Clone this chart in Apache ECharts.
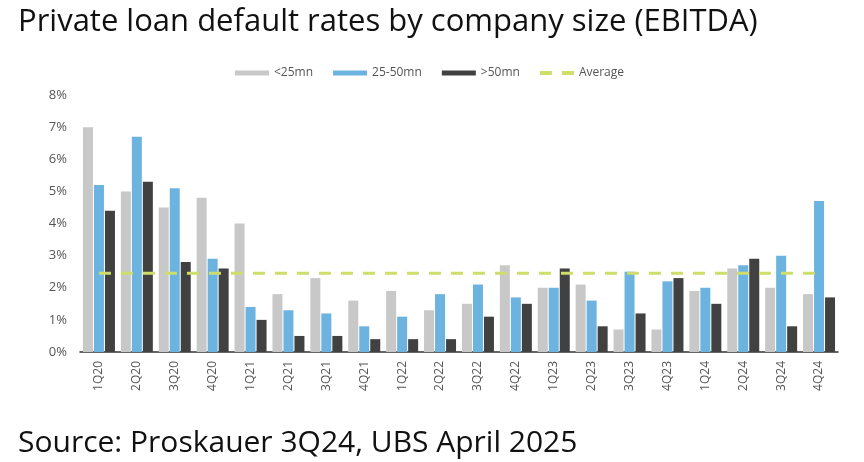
<!DOCTYPE html>
<html lang="en">
<head>
    <meta charset="UTF-8">
    <title>Private loan default rates by company size</title>
    <script src="https://cdn.jsdelivr.net/npm/echarts@6/dist/echarts.min.js"></script>
    <style>
        body { margin: 0; padding: 0; background: #fff; }
        #main { width: 864px; height: 462px; }
    </style>
</head>
<body>
    <div id="main"></div>
    <script type="text/javascript">
        // quarters on the x axis
        var quarters = ['1Q20', '2Q20', '3Q20', '4Q20', '1Q21', '2Q21', '3Q21', '4Q21', '1Q22', '2Q22',
            '3Q22', '4Q22', '1Q23', '2Q23', '3Q23', '4Q23', '1Q24', '2Q24', '3Q24', '4Q24'];

        // default rates (%)
        var small = [7.0, 5.0, 4.5, 4.8, 4.0, 1.8, 2.3, 1.6, 1.9, 1.3, 1.5, 2.7, 2.0, 2.1, 0.7, 0.7, 1.9, 2.6, 2.0, 1.8];
        var mid = [5.2, 6.7, 5.1, 2.9, 1.4, 1.3, 1.2, 0.8, 1.1, 1.8, 2.1, 1.7, 2.0, 1.6, 2.5, 2.2, 2.0, 2.7, 3.0, 4.7];
        var large = [4.4, 5.3, 2.8, 2.6, 1.0, 0.5, 0.5, 0.4, 0.4, 0.4, 1.1, 1.5, 2.6, 0.8, 1.2, 2.3, 1.5, 2.9, 0.8, 1.7];
        var averageRate = 2.45;

        var yTicks = [0, 1, 2, 3, 4, 5, 6, 7, 8];

        var fontFamily = '"Open Sans", "Noto Sans", sans-serif';

        var myChart = echarts.init(document.getElementById('main'));

        var option = {
            backgroundColor: '#fff',
            animation: false,
            title: [{
                text: 'Private loan default rates by company size (EBITDA)',
                left: 13,
                top: 2,
                textStyle: {
                    fontFamily: fontFamily,
                    fontSize: 31,
                    fontWeight: 'normal',
                    color: '#111'
                }
            }, {
                text: 'Source: Proskauer 3Q24, UBS April 2025',
                left: 13,
                top: 423,
                textStyle: {
                    fontFamily: fontFamily,
                    fontSize: 30,
                    fontWeight: 'normal',
                    color: '#111'
                }
            }],
            legend: {
                top: 62,
                left: 230,
                itemWidth: 34,
                itemHeight: 5,
                itemGap: 20,
                textStyle: {
                    fontFamily: fontFamily,
                    fontSize: 12,
                    color: '#555'
                },
                data: [
                    { name: '<25mn', icon: 'rect' },
                    { name: '25-50mn', icon: 'rect' },
                    { name: '>50mn', icon: 'rect' },
                    { name: 'Average', icon: 'path://M0,0h12v4h-12z M22,0h12v4h-12z' }
                ]
            },
            grid: {
                left: 80,
                right: 26,
                top: 95,
                bottom: 110
            },
            xAxis: {
                type: 'category',
                data: quarters,
                axisTick: { show: false },
                axisLine: {
                    lineStyle: { color: '#333', width: 1.5 }
                },
                axisLabel: {
                    rotate: 90,
                    margin: 9,
                    fontFamily: fontFamily,
                    fontSize: 12,
                    color: '#555'
                }
            },
            yAxis: {
                type: 'value',
                min: yTicks[0],
                max: yTicks[yTicks.length - 1],
                interval: 1,
                splitLine: { show: false },
                axisLine: { show: false },
                axisTick: { show: false },
                axisLabel: {
                    margin: 13,
                    fontFamily: fontFamily,
                    fontSize: 13,
                    color: '#555',
                    formatter: '{value}%'
                }
            },
            series: [{
                name: '<25mn',
                type: 'bar',
                barWidth: 10,
                barGap: '10%',
                itemStyle: { color: '#c8c8c8' },
                data: small
            }, {
                name: '25-50mn',
                type: 'bar',
                barWidth: 10,
                barGap: '10%',
                itemStyle: { color: '#6cb4df' },
                data: mid
            }, {
                name: '>50mn',
                type: 'bar',
                barWidth: 10,
                barGap: '10%',
                itemStyle: { color: '#414141' },
                data: large
            }, {
                name: 'Average',
                type: 'line',
                symbol: 'none',
                z: 5,
                itemStyle: { color: '#cfdd6b' },
                lineStyle: {
                    color: '#cfdd6b',
                    width: 3,
                    type: [12, 10]
                },
                data: quarters.map(function () { return averageRate; })
            }]
        };

        myChart.setOption(option);
    </script>
</body>
</html>
